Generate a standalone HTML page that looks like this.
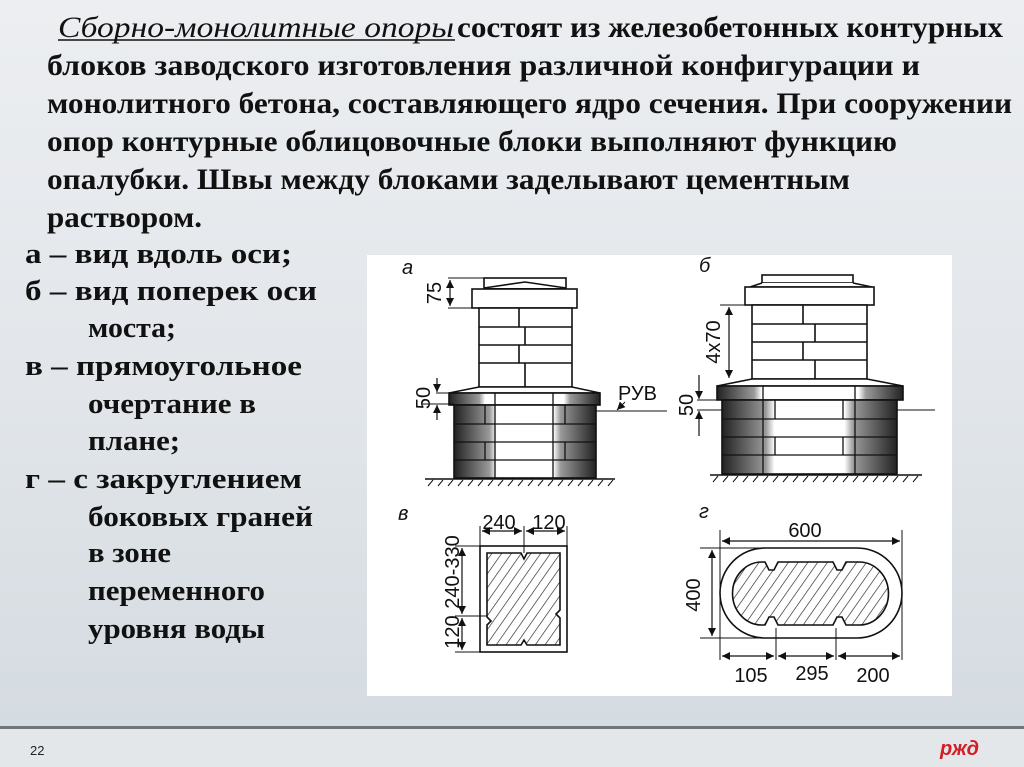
<!DOCTYPE html>
<html><head><meta charset="utf-8"><style>
html,body{margin:0;padding:0;width:1024px;height:767px;overflow:hidden}
body{background:linear-gradient(180deg,#eceef1 0%,#e2e6ea 50%,#d3dae0 100%)}
svg{position:absolute;left:0;top:0}
.t{font-family:"Liberation Serif","Noto Serif CJK SC",serif;font-weight:bold;font-size:30px;fill:#111}
.l{font-size:29px}
.d{font-family:"Liberation Sans","DejaVu Sans",sans-serif;font-size:20px;fill:#111}
</style></head><body>
<svg width="1024" height="767" viewBox="0 0 1024 767">
<defs>
<linearGradient id="sh" x1="0" x2="1" y1="0" y2="0">
<stop offset="0" stop-color="#222"/><stop offset="0.25" stop-color="#9a9a9a"/><stop offset="0.3" stop-color="#fff"/><stop offset="0.7" stop-color="#fff"/><stop offset="0.75" stop-color="#9a9a9a"/><stop offset="1" stop-color="#222"/>
</linearGradient>
<linearGradient id="sh2" x1="0" x2="1" y1="0" y2="0">
<stop offset="0" stop-color="#222"/><stop offset="0.2" stop-color="#9a9a9a"/><stop offset="0.24" stop-color="#fff"/><stop offset="0.76" stop-color="#fff"/><stop offset="0.8" stop-color="#9a9a9a"/><stop offset="1" stop-color="#222"/>
</linearGradient>
<pattern id="hat" width="8" height="8" patternUnits="userSpaceOnUse" patternTransform="rotate(35)">
<rect width="8" height="8" fill="#fff"/><line x1="0" y1="0" x2="0" y2="8" stroke="#222" stroke-width="1.3"/>
</pattern>
<marker id="ar" markerWidth="8" markerHeight="8" refX="8" refY="4" orient="auto-start-reverse" markerUnits="userSpaceOnUse"><path d="M0,0 L8,4 L0,8 z" fill="#111"/></marker>
</defs>

<text class="t" x="58" y="37" textLength="396" lengthAdjust="spacingAndGlyphs" font-style="italic" style="font-weight:normal">Сборно-монолитные опоры </text>
<line x1="58" y1="40" x2="455" y2="40" stroke="#111" stroke-width="1.5"/>
<text class="t" x="457" y="37" textLength="546" lengthAdjust="spacingAndGlyphs">состоят из железобетонных контурных</text>
<text class="t" x="47" y="75" textLength="873" lengthAdjust="spacingAndGlyphs">блоков заводского изготовления  различной конфигурации  и</text>
<text class="t" x="47" y="113" textLength="965" lengthAdjust="spacingAndGlyphs">монолитного бетона, составляющего ядро сечения. При сооружении</text>
<text class="t" x="47" y="151" textLength="850" lengthAdjust="spacingAndGlyphs">опор контурные облицовочные блоки выполняют функцию</text>
<text class="t" x="47" y="189" textLength="803" lengthAdjust="spacingAndGlyphs">опалубки. Швы между блоками заделывают цементным</text>
<text class="t" x="47" y="227" textLength="155" lengthAdjust="spacingAndGlyphs">раствором.</text>

<g class="t l">
<text x="25" y="263" textLength="267" lengthAdjust="spacingAndGlyphs">а – вид вдоль оси;</text>
<text x="25" y="300" textLength="292" lengthAdjust="spacingAndGlyphs">б – вид поперек оси</text>
<text x="88" y="337" textLength="88" lengthAdjust="spacingAndGlyphs">моста;</text>
<text x="25" y="375" textLength="277" lengthAdjust="spacingAndGlyphs">в – прямоугольное</text>
<text x="88" y="413" textLength="168" lengthAdjust="spacingAndGlyphs">очертание в</text>
<text x="88" y="450" textLength="92" lengthAdjust="spacingAndGlyphs">плане;</text>
<text x="25" y="488" textLength="277" lengthAdjust="spacingAndGlyphs">г – с закруглением</text>
<text x="88" y="526" textLength="225" lengthAdjust="spacingAndGlyphs">боковых граней</text>
<text x="88" y="562" textLength="83" lengthAdjust="spacingAndGlyphs">в зоне</text>
<text x="88" y="600" textLength="177" lengthAdjust="spacingAndGlyphs">переменного</text>
<text x="88" y="638" textLength="177" lengthAdjust="spacingAndGlyphs">уровня воды</text>
</g>

<rect x="367" y="255" width="585" height="441" fill="#fff"/>

<!-- Fig a -->
<g stroke="#111" stroke-width="1.6" fill="#fff">
<text class="d" x="402" y="274" font-style="italic" stroke="none" fill="#111">а</text>
<rect x="484" y="278" width="82" height="10"/>
<path d="M484,288 L525,282 L566,288"/>
<rect x="472" y="289" width="105" height="19"/>
<rect x="479" y="308" width="93" height="79"/>
<path d="M479,327H572M479,345H572M479,363H572M519,308V327M525,327V345M519,345V363M525,363V387"/>
<path d="M479,387 L449,393 L600,393 L572,387 Z"/>
<rect x="449" y="393" width="151" height="12" fill="url(#sh2)"/>
<rect x="454" y="405" width="142" height="73" fill="url(#sh)"/>
<path d="M454,424H596M454,442H596M454,460H596M495,393V478M553,393V478M485,405V424M565,405V424M485,442V460M565,442V460" stroke-width="1.3"/>
<line x1="425" y1="479" x2="615" y2="479"/>
<path d="M428,486l5,-6M438,486l5,-6M448,486l5,-6M458,486l5,-6M468,486l5,-6M478,486l5,-6M488,486l5,-6M498,486l5,-6M508,486l5,-6M518,486l5,-6M528,486l5,-6M538,486l5,-6M548,486l5,-6M558,486l5,-6M568,486l5,-6M578,486l5,-6M588,486l5,-6M598,486l5,-6M608,486l5,-6" stroke-width="1"/>
<path d="M448,278H484M448,308H479" stroke-width="1"/>
<line x1="450" y1="280" x2="450" y2="306" stroke-width="1.2" marker-start="url(#ar)" marker-end="url(#ar)"/>
<path d="M436,393H449M422,404H454" stroke-width="1"/>
<line x1="437" y1="378" x2="437" y2="392" stroke-width="1.2" marker-end="url(#ar)"/>
<line x1="437" y1="420" x2="437" y2="405" stroke-width="1.2" marker-end="url(#ar)"/>
<path d="M596,411H617L667,411" stroke-width="1"/>
<line x1="625" y1="402" x2="617" y2="410" stroke-width="1" marker-end="url(#ar)"/>
</g>
<text class="d" transform="translate(441,293) rotate(-90)" text-anchor="middle" font-size="21">75</text>
<text class="d" transform="translate(430,398) rotate(-90)" text-anchor="middle" font-size="21">50</text>
<text class="d" x="618" y="400" font-size="21">РУВ</text>

<!-- Fig b -->
<g stroke="#111" stroke-width="1.6" fill="#fff">
<text class="d" x="699" y="272" font-style="italic" stroke="none" fill="#111">б</text>
<rect x="762" y="275" width="91" height="8"/>
<path d="M762,283 L750,287 L872,287 L853,283"/>
<rect x="745" y="287" width="129" height="18"/>
<rect x="752" y="305" width="115" height="74"/>
<path d="M752,324H867M752,342H867M752,360H867M803,305V324M815,324V342M803,342V360M815,360V379"/>
<path d="M752,379 L717,386 L903,386 L867,379 Z"/>
<rect x="717" y="386" width="186" height="14" fill="url(#sh2)"/>
<rect x="722" y="400" width="175" height="74" fill="url(#sh)"/>
<path d="M722,419H897M722,437H897M722,455H897M763,386V474M855,386V474M775,400V419M843,400V419M775,437V455M843,437V455" stroke-width="1.3"/>
<line x1="710" y1="475" x2="922" y2="475"/>
<path d="M713,482l5,-6M723,482l5,-6M733,482l5,-6M743,482l5,-6M753,482l5,-6M763,482l5,-6M773,482l5,-6M783,482l5,-6M793,482l5,-6M803,482l5,-6M813,482l5,-6M823,482l5,-6M833,482l5,-6M843,482l5,-6M853,482l5,-6M863,482l5,-6M873,482l5,-6M883,482l5,-6M893,482l5,-6M903,482l5,-6M913,482l5,-6" stroke-width="1"/>
<path d="M720,305H752" stroke-width="1"/>
<line x1="729" y1="307" x2="729" y2="378" stroke-width="1.2" marker-start="url(#ar)" marker-end="url(#ar)"/>
<path d="M697,400H722M697,410H722" stroke-width="1"/>
<line x1="699" y1="375" x2="699" y2="399" stroke-width="1.2" marker-end="url(#ar)"/>
<line x1="699" y1="436" x2="699" y2="411" stroke-width="1.2" marker-end="url(#ar)"/>
<line x1="897" y1="410" x2="935" y2="410" stroke-width="1"/>
</g>
<text class="d" transform="translate(720,342) rotate(-90)" text-anchor="middle" font-size="21">4x70</text>
<text class="d" transform="translate(693,405) rotate(-90)" text-anchor="middle" font-size="21">50</text>

<!-- Fig v -->
<g stroke="#111" stroke-width="1.6">
<text class="d" x="398" y="520" font-style="italic" stroke="none" fill="#111">в</text>
<rect x="480" y="546" width="87" height="106" fill="#fff"/>
<path d="M487,553 H521 L524,559 L527,553 H560 V610 L556,614 L560,618 V645 H527 L524,640 L521,645 H487 V625 L491,621 L487,617 Z" fill="url(#hat)"/>
<path d="M480,526V546M524,526V553M567,526V546M455,546H480M455,652H480M455,616H487" stroke-width="1"/>
<line x1="482" y1="531" x2="522" y2="531" stroke-width="1.2" marker-start="url(#ar)" marker-end="url(#ar)"/>
<line x1="526" y1="531" x2="565" y2="531" stroke-width="1.2" marker-start="url(#ar)" marker-end="url(#ar)"/>
<line x1="462" y1="548" x2="462" y2="614" stroke-width="1.2" marker-start="url(#ar)" marker-end="url(#ar)"/>
<line x1="462" y1="618" x2="462" y2="650" stroke-width="1.2" marker-start="url(#ar)" marker-end="url(#ar)"/>
</g>
<text class="d" x="499" y="529" text-anchor="middle" font-size="21">240</text>
<text class="d" x="549" y="529" text-anchor="middle" font-size="21">120</text>
<text class="d" transform="translate(459,572) rotate(-90)" text-anchor="middle" font-size="21">240-330</text>
<text class="d" transform="translate(459,632) rotate(-90)" text-anchor="middle" font-size="21">120</text>

<!-- Fig g -->
<g stroke="#111" stroke-width="1.6">
<text class="d" x="699" y="518" font-style="italic" stroke="none" fill="#111">г</text>
<rect x="720" y="548" width="182" height="90" rx="45" fill="#fff"/>
<path d="M765,562 L769,570 L774,570 L778,562 H833 L837,570 L842,570 L846,562 H859 A29,31 0 0 1 859,625 H846 L842,617 L837,617 L833,625 H778 L774,617 L769,617 L765,625 H762 A29,31 0 0 1 762,562 Z" fill="url(#hat)"/>
<path d="M720,530V660M902,530V660M700,548H760M700,638H760M776,628V660M836,628V660" stroke-width="1"/>
<line x1="722" y1="541" x2="900" y2="541" stroke-width="1.2" marker-start="url(#ar)" marker-end="url(#ar)"/>
<line x1="712" y1="550" x2="712" y2="636" stroke-width="1.2" marker-start="url(#ar)" marker-end="url(#ar)"/>
<line x1="722" y1="656" x2="774" y2="656" stroke-width="1.2" marker-start="url(#ar)" marker-end="url(#ar)"/>
<line x1="778" y1="656" x2="834" y2="656" stroke-width="1.2" marker-start="url(#ar)" marker-end="url(#ar)"/>
<line x1="838" y1="656" x2="900" y2="656" stroke-width="1.2" marker-start="url(#ar)" marker-end="url(#ar)"/>
</g>
<text class="d" x="805" y="537" text-anchor="middle" font-size="21">600</text>
<text class="d" transform="translate(700,595) rotate(-90)" text-anchor="middle" font-size="21">400</text>
<text class="d" x="751" y="682" text-anchor="middle" font-size="21">105</text>
<text class="d" x="812" y="680" text-anchor="middle" font-size="21">295</text>
<text class="d" x="873" y="682" text-anchor="middle" font-size="21">200</text>

<!-- footer -->
<rect x="0" y="726" width="1024" height="3" fill="#6e757b"/>
<rect x="0" y="729" width="1024" height="38" fill="#e4e7ea"/>
<text x="30" y="755" font-family="Liberation Sans, sans-serif" font-size="13" fill="#222">22</text>
<text x="940" y="755" font-family="Liberation Sans, sans-serif" font-size="20" font-weight="bold" font-style="italic" fill="#d21f26">ржд</text>
</svg>
</body></html>
